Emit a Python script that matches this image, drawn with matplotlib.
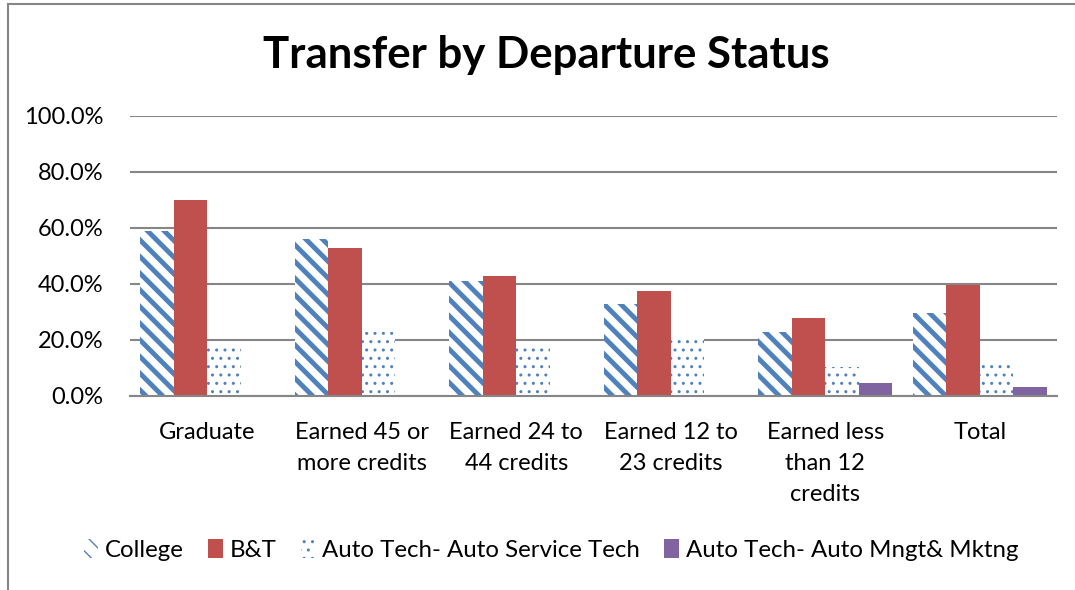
import numpy as np
import matplotlib as mpl
import matplotlib.pyplot as plt
from matplotlib.lines import Line2D
from matplotlib.ticker import FuncFormatter

plt.rcParams['font.family'] = ['Lato', 'DejaVu Sans']

# Data (percent)
categories = ["Graduate", "Earned 45 or\nmore credits", "Earned 24 to\n44 credits",
              "Earned 12 to\n23 credits", "Earned less\nthan 12\ncredits", "Total"]
series_names = ["College", "B&T", "Auto Tech- Auto Service Tech", "Auto Tech- Auto Mngt& Mktng"]
college = [59.0, 56.0, 41.0, 33.0, 23.0, 29.5]
bt = [70.0, 52.7, 43.0, 37.6, 27.7, 39.8]
auto_service = [17.6, 23.0, 18.0, 21.0, 10.3, 13.0]
auto_mngt = [0.0, 0.0, 0.0, 0.0, 4.8, 3.2]

blue = '#4F81BD'
red = '#C0504D'
purple = '#8064A2'
grid_c = '#868686'

fig = plt.figure(figsize=(10.75, 5.9), dpi=100)
ax = fig.add_axes([130 / 1075, 1 - 396 / 590, (1057 - 130) / 1075, (396 - 116) / 590])

x = np.arange(len(categories))
w = 0.217
offsets = [-1.5 * w, -0.5 * w, 0.5 * w, 1.5 * w]

with mpl.rc_context({'hatch.linewidth': 3.5}):
    ax.bar(x + offsets[0], np.array(college) / 100, w, facecolor='white', edgecolor=blue,
           linewidth=0, hatch='\\\\', label=series_names[0], zorder=3)
ax.bar(x + offsets[1], np.array(bt) / 100, w, color=red, linewidth=0,
       label=series_names[1], zorder=3)
with mpl.rc_context({'hatch.linewidth': 1.0}):
    ax.bar(x + offsets[2], np.array(auto_service) / 100, w, facecolor='white', edgecolor=blue,
           linewidth=0, hatch='..', label=series_names[2], zorder=3)
ax.bar(x + offsets[3], np.array(auto_mngt) / 100, w, color=purple, linewidth=0,
       label=series_names[3], zorder=3)

ax.set_xlim(-0.5, len(categories) - 0.5)
ax.set_ylim(0, 1.0)
ax.set_yticks(np.arange(0, 1.01, 0.2))
ax.yaxis.set_major_formatter(FuncFormatter(lambda v, p: f"{v * 100:.1f}%"))
ax.grid(axis='y', color=grid_c, linewidth=1.5, zorder=0)
ax.set_axisbelow(True)
for s in ['top', 'right', 'left']:
    ax.spines[s].set_visible(False)
ax.spines['bottom'].set_color(grid_c)
ax.spines['bottom'].set_linewidth(1.5)
ax.spines['bottom'].set_zorder(4)

ax.set_xticks(x)
ax.set_xticklabels(categories, fontsize=17, linespacing=1.57, va='top')
ax.tick_params(axis='x', length=0, pad=19)
ax.tick_params(axis='y', length=0, pad=19, labelsize=17)

fig.text(546 / 1075, 1 - 55 / 590, "Transfer by Departure Status", ha='center', va='center',
         fontsize=31.5, fontweight='bold')

fig.legend(loc='center', bbox_to_anchor=(551 / 1075, 1 - 550 / 590), ncol=4, frameon=False,
           fontsize=17.3, handlelength=0.6, handleheight=0.8, handletextpad=0.3,
           columnspacing=1.0)

# chart frame
fig.add_artist(Line2D([8 / 1075, 8 / 1075], [0, 1 - 4 / 590], color=grid_c, linewidth=1.5))
fig.add_artist(Line2D([8 / 1075, 1], [1 - 4 / 590, 1 - 4 / 590], color=grid_c, linewidth=1.5))

fig.savefig('out.png', dpi=100)
